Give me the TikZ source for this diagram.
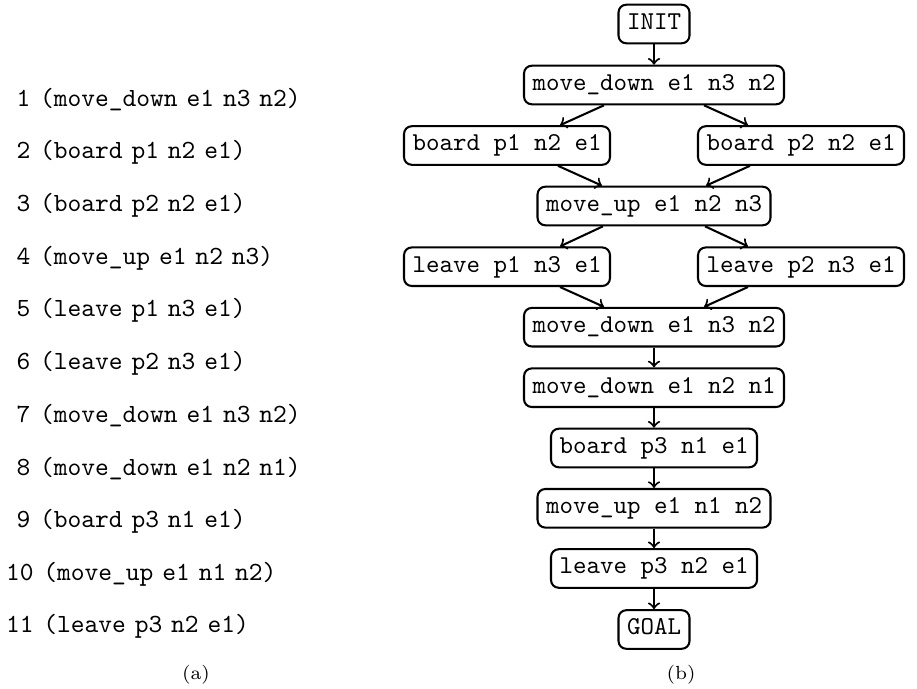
\documentclass[tikz,border=0pt]{standalone}
\usetikzlibrary{calc}
\begin{document}
\begin{tikzpicture}[x=0.3889pt,y=-0.3889pt,
  act/.style={draw,thick,rounded corners=3pt,font=\ttfamily,inner xsep=3.3pt,inner ysep=0pt,
    minimum height=15pt,text height=6.2pt,text depth=2pt},
  arr/.style={thick,->},
  li/.style={anchor=west,inner sep=0pt,font=\fontsize{10.2}{12}\ttfamily},
  subcap/.style={font=\fontsize{7.4}{9}\selectfont}]
\useasboundingbox (0,0) rectangle (917,689);
% list (a)
\newcommand{\lsp}{\spaceskip=3.45pt plus 0pt minus 0pt\relax}
\newcommand{\gap}{\hspace{3.8pt}}
\node[li] (l1) at (16,100) {1\gap{\lsp (move\_down e1 n3 n2)}};
\node[li] (l2) at (16,152.7) {2\gap{\lsp (board p1 n2 e1)}};
\node[li] (l3) at (16,205.3) {3\gap{\lsp (board p2 n2 e1)}};
\node[li] (l4) at (16,258) {4\gap{\lsp (move\_up e1 n2 n3)}};
\node[li] (l5) at (16,310.7) {5\gap{\lsp (leave p1 n3 e1)}};
\node[li] (l6) at (16,363.3) {6\gap{\lsp (leave p2 n3 e1)}};
\node[li] (l7) at (16,416) {7\gap{\lsp (move\_down e1 n3 n2)}};
\node[li] (l8) at (16,468.7) {8\gap{\lsp (move\_down e1 n2 n1)}};
\node[li] (l9) at (16,521.3) {9\gap{\lsp (board p3 n1 e1)}};
\node[li] (l10) at (5.5,574) {10\gap{\lsp (move\_up e1 n1 n2)}};
\node[li] (l11) at (5.5,626.7) {11\gap{\lsp (leave p3 n2 e1)}};
\node[subcap] (ca) at (196,675) {(a)};
% graph (b)
\node[act] (init) at (654,24) {INIT};
\node[act] (md1) at (654,85) {move\_down e1 n3 n2};
\node[act] (bp1) at (507,145.5) {board p1 n2 e1};
\node[act] (bp2) at (801,145.5) {board p2 n2 e1};
\node[act] (mu1) at (654,206) {move\_up e1 n2 n3};
\node[act] (lp1) at (507,266.7) {leave p1 n3 e1};
\node[act] (lp2) at (801,266.7) {leave p2 n3 e1};
\node[act] (md2) at (654,327.2) {move\_down e1 n3 n2};
\node[act] (md3) at (654,387.7) {move\_down e1 n2 n1};
\node[act] (bp3) at (654,448) {board p3 n1 e1};
\node[act] (mu2) at (654,508.3) {move\_up e1 n1 n2};
\node[act] (lp3) at (654,568.5) {leave p3 n2 e1};
\node[act] (goal) at (654,629.5) {GOAL};
\node[subcap] (cb) at (681,675) {(b)};
\draw[arr] (init) -- (md1);
\draw[arr] ($(md1.south)+(-50,0)$) -- ($(bp1.north)+(53,0)$);
\draw[arr] ($(md1.south)+(50,0)$) -- ($(bp2.north)+(-53,0)$);
\draw[arr] ($(bp1.south)+(51,0)$) -- ($(mu1.north)+(-52,0)$);
\draw[arr] ($(bp2.south)+(-51,0)$) -- ($(mu1.north)+(52,0)$);
\draw[arr] ($(mu1.south)+(-51,0)$) -- ($(lp1.north)+(53,0)$);
\draw[arr] ($(mu1.south)+(51,0)$) -- ($(lp2.north)+(-53,0)$);
\draw[arr] ($(lp1.south)+(53,0)$) -- ($(md2.north)+(-50,0)$);
\draw[arr] ($(lp2.south)+(-53,0)$) -- ($(md2.north)+(50,0)$);
\draw[arr] (md2) -- (md3);
\draw[arr] (md3) -- (bp3);
\draw[arr] (bp3) -- (mu2);
\draw[arr] (mu2) -- (lp3);
\draw[arr] (lp3) -- (goal);
\end{tikzpicture}
\end{document}
